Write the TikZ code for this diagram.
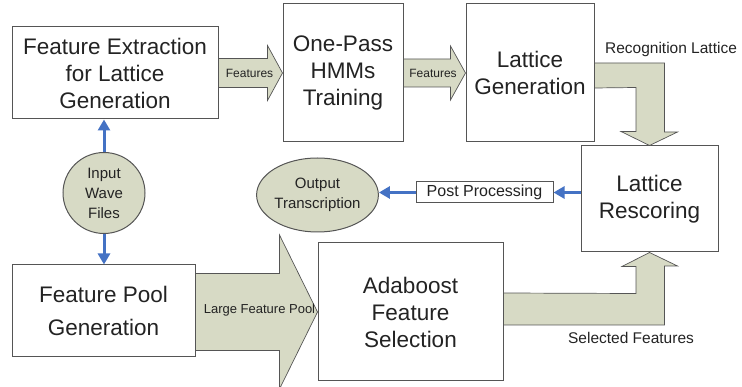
\documentclass[tikz,border=0pt]{standalone}
\usepackage{fontspec}
\setmainfont{Liberation Sans}
\usepackage{tikz}
\usetikzlibrary{
shapes,
shapes.geometric,
arrows,
arrows.meta,
positioning,
calc
}
\definecolor{fatfill}{RGB}{215,218,197}
\definecolor{linkblue}{RGB}{68,114,196}
\definecolor{edgegray}{RGB}{85,85,85}
\definecolor{txtgray}{RGB}{35,35,35}
\newcommand{\fatright}[5]{\path[fat] ($(#1 |- #2)+(0,-#3)$) -- ($(#2)+(-#5,-#3)$) -- ($(#2)+(-#5,-#4)$) -- (#2) -- ($(#2)+(-#5,#4)$) -- ($(#2)+(-#5,#3)$) -- ($(#1 |- #2)+(0,#3)$) -- cycle;}

\begin{document}
\begin{tikzpicture}[x=1pt,y=-1pt,
  box/.style={draw=edgegray,line width=1pt,fill=white,inner sep=0pt,align=center,text=txtgray,font=\fontsize{22.5}{27}\selectfont},
  blob/.style={ellipse,draw=edgegray,line width=1pt,fill=fatfill,inner sep=0pt,align=center,text=txtgray,font=\fontsize{15}{20}\selectfont},
  fat/.style={draw=edgegray,line width=0.7pt,fill=fatfill,line join=miter},
  tag/.style={text=txtgray,inner sep=0pt},
  link/.style={draw=linkblue,line width=3pt,-{Triangle[length=11pt,width=12pt]}}]
    \useasboundingbox (0,0) rectangle (742,387);
    \node[box,minimum width=206pt,minimum height=92pt] (fext) at (115,73) {Feature Extraction\\for Lattice\\Generation};
    \node[box,minimum width=120pt,minimum height=138pt] (hmm) at (343,73) {One-Pass\\HMMs\\Training};
    \node[box,minimum width=128pt,minimum height=138pt] (latgen) at (530,73) {Lattice\\Generation};
    \node[box,minimum width=137pt,minimum height=106pt] (rescore) at (649.5,199) {Lattice\\Rescoring};
    \node[box,minimum width=137pt,minimum height=21pt,font=\fontsize{16}{19}\selectfont] (post) at (484.5,192.5) {Post Processing};
    \node[box,minimum width=183pt,minimum height=92pt,font=\fontsize{22.5}{33}\selectfont] (pool) at (103.5,311) {Feature Pool\\Generation};
    \node[box,minimum width=185pt,minimum height=138pt] (ada) at (410.5,312) {Adaboost\\Feature\\Selection};
    \node[blob,minimum width=82pt,minimum height=81pt] (wave) at (104,193) {Input\\Wave\\Files};
    \node[blob,minimum width=119pt,minimum height=74pt] (out) at (317.5,195) {Output\\Transcription};
    \fatright{fext.east}{hmm.west}{14.5}{27.5}{15}
    \fatright{hmm.east}{latgen.west}{14}{27}{15}
    \fatright{pool.east}{ada.west}{38.5}{77}{38}
    \path[fat] ($(latgen.east)+(0,-10)$) -- ++(70,0) -- ++(0,69) -- ++(13,0) -- (rescore.north) -- ++(-28.5,-14) -- ++(15,0) -- ++(0,-44) -- ($(latgen.east)+(0,15)$) -- cycle;
    \path[fat] ($(ada.east)+(0,13)$) -- ++(161,0) -- ++(0,-59) -- ++(13,0) -- (rescore.south) -- ++(-27.5,14) -- ++(14,0) -- ++(0,27) -- ($(ada.east)+(0,-19)$) -- cycle;
    \node[tag,font=\fontsize{12}{14}\selectfont] (feata) at (249.5,73.5) {Features};
    \node[tag,font=\fontsize{12}{14}\selectfont] (featb) at (433,73.5) {Features};
    \node[tag,font=\fontsize{15.5}{18}\selectfont] (reclat) at (671,49) {Recognition Lattice};
    \node[tag,font=\fontsize{13}{15}\selectfont] (bigpool) at (259.5,310) {Large Feature Pool};
    \node[tag,font=\fontsize{15.5}{18}\selectfont] (selfeat) at (631,338) {Selected Features};
    \draw[link] (wave.north) -- (wave.north |- fext.south);
    \draw[link] (wave.south) -- (wave.south |- pool.north);
    \draw[link] (post.east -| rescore.west) -- (post.east);
    \draw[link] (post.west) -- (post.west -| out.east);
\end{tikzpicture}
\end{document}
